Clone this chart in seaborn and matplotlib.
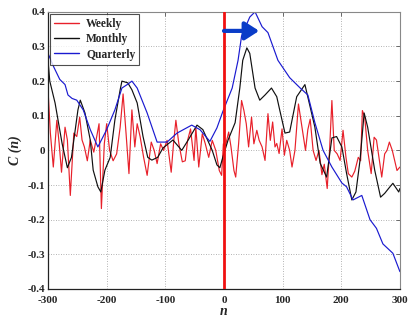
import numpy as np
import pandas as pd
import matplotlib
matplotlib.use("Agg")
import matplotlib.pyplot as plt
import seaborn as sns

# ---------------- data ----------------
weekly_n = [-300, -296, -291, -285, -281, -277, -271, -267, -262, -256, -251, -246, -242, -238,
            -233, -228, -222, -217, -213, -209, -204, -200, -195, -189, -183, -177, -172, -167,
            -162, -157, -152, -148, -143, -137, -131, -124, -119, -114, -108, -103, -97, -90,
            -86, -82, -77, -71, -66, -62, -57, -51, -48, -43, -37, -32, -26, -20, -14, -8,
            -4, -1, 2, 8, 12, 17, 20, 25, 30, 34, 38, 42, 47, 51, 56, 60, 65, 70, 75, 79,
            83, 87, 90, 94, 99, 103, 107, 112, 116, 121, 127, 133, 139, 143, 147, 152, 157,
            162, 167, 171, 176, 180, 184, 188, 193, 198, 203, 208, 212, 218, 223, 229, 233,
            236, 240, 245, 251, 256, 260, 265, 269, 274, 278, 282, 287, 291, 295, 300]
weekly_c = [0.175, 0.05, -0.048, 0.087, 0.02, -0.063, 0.067, 0.03, -0.13, 0.05, 0.04, 0.096, 0.03, 0.01,
            -0.03, 0.03, -0.005, 0.04, 0.077, -0.168, 0.02, 0.077, 0.0, -0.03, -0.01, 0.067, 0.163, 0.05,
            -0.067, 0.117, 0.01, 0.077, 0.04, -0.02, -0.072, 0.024, 0.0, -0.038, 0.019, 0.0, 0.029, -0.063,
            0.02, 0.087, 0.02, -0.033, -0.03, 0.029, 0.062, -0.029, 0.067, -0.048, 0.048, 0.02, -0.02, 0.029, 0.0, -0.058,
            -0.072, 0.019, 0.01, 0.053, 0.01, -0.058, -0.077, 0.02, 0.144, 0.115, 0.077, 0.01, 0.096, 0.019, 0.058, 0.029, 0.01, -0.029, 0.106, 0.029,
            0.082, 0.01, 0.02, -0.009, 0.062, -0.014, 0.029, 0.0, -0.048, 0.0, 0.134, 0.067, 0.0, 0.06, 0.09, 0.0, -0.029,
            0.0, -0.07, -0.04, -0.11, 0.0, 0.144, 0.0, -0.01, -0.029, 0.058, -0.02, -0.067, -0.077, -0.06, -0.02, -0.03,
            0.115, 0.096, 0.0, -0.067, 0.038, 0.03, -0.029, -0.077, -0.01, 0.0, 0.024, 0.0, -0.029, -0.058, -0.048]

monthly_n = [-300, -297, -288, -276, -267, -260, -249, -245, -237, -228, -223, -215, -210, -203,
             -194, -186, -177, -174, -164, -157, -148, -138, -130, -123, -113, -104, -87, -72,
             -61, -46, -36, -20, -12, -7, -2, 7, 19, 27, 32, 39, 44, 53, 61, 70, 81, 90, 95,
             104, 112, 124, 138, 147, 155, 164, 175, 184, 192, 201, 209, 218, 225, 232, 239,
             245, 257, 267, 274, 283, 288, 298, 300]
monthly_c = [0.26, 0.2, 0.137, 0.02, -0.05, -0.02, 0.117, 0.145, 0.108, 0.03, -0.057, -0.105, -0.12, -0.057,
             -0.02, 0.088, 0.175, 0.2, 0.195, 0.175, 0.137, 0.04, -0.02, -0.028, -0.02, 0.007, 0.03, 0.0,
             0.03, 0.073, 0.06, 0.0, -0.042, -0.05, -0.02, 0.03, 0.08, 0.18, 0.26, 0.296, 0.28, 0.18, 0.145, 0.16, 0.18, 0.155, 0.117,
             0.05, 0.053, 0.155, 0.19, 0.125, 0.067, -0.037, -0.077, 0.036, 0.04, 0.01, -0.066, -0.143, -0.12, -0.028, 0.108,
             0.067, -0.057, -0.135, -0.124, -0.105, -0.095, -0.12, -0.11]

quarterly_n = [-300, -290, -280, -271, -266, -259, -251, -240, -228, -215, -200, -186, -174, -165,
               -157, -148, -131, -114, -97, -80, -55, -41, -24, -12, -2, 14, 24, 30, 44, 53, 65,
               75, 92, 112, 130, 143, 155, 169, 184, 201, 209, 220, 235, 249, 260, 271, 288, 300]
quarterly_c = [0.28, 0.24, 0.205, 0.19, 0.16, 0.15, 0.145, 0.117, 0.06, 0.01, 0.06, 0.117, 0.18, 0.19,
               0.2, 0.18, 0.108, 0.024, 0.024, 0.05, 0.073, 0.06, 0.026, 0.065, 0.112, 0.18, 0.26, 0.33, 0.385, 0.4, 0.357,
               0.34, 0.26, 0.21, 0.18, 0.16, 0.08, 0.0, -0.048, -0.094, -0.105, -0.143, -0.13, -0.2, -0.225, -0.27, -0.297, -0.35]

series_names = ["Weekly", "Monthly", "Quarterly"]
series_colors = ["#e8202a", "#101010", "#1a1ad0"]

x_ticks = [-300, -200, -100, 0, 100, 200, 300]
y_ticks = [-0.4, -0.3, -0.2, -0.1, 0, 0.1, 0.2, 0.3, 0.4]
y_tick_labels = ["-0.4", "-0.3", "-0.2", "-0.1", "0", "0.1", "0.2", "0.3", "0.4"]

marker_n = 0
arrow_from = (0, 0.345)
arrow_to = (60, 0.345)

# ---------------- figure ----------------
sns.set_theme(style="white")
plt.rcParams["font.family"] = ["Liberation Serif", "DejaVu Serif"]
plt.rcParams["font.weight"] = "bold"

fig = plt.figure(figsize=(4.14, 3.2), dpi=100)
ax = fig.add_axes([0.116, 0.097, 0.85, 0.866])

frames = [
    pd.DataFrame({"n": weekly_n, "C": weekly_c, "series": "Weekly"}),
    pd.DataFrame({"n": monthly_n, "C": monthly_c, "series": "Monthly"}),
    pd.DataFrame({"n": quarterly_n, "C": quarterly_c, "series": "Quarterly"}),
]
df = pd.concat(frames, ignore_index=True)

sns.lineplot(data=df, x="n", y="C", hue="series", hue_order=series_names,
             palette=dict(zip(series_names, series_colors)), estimator=None,
             sort=False, linewidth=0.85, ax=ax)

ax.axvline(marker_n, color="#f01010", linewidth=2.0, zorder=5)
ax.annotate("", xy=arrow_to, xytext=arrow_from,
            arrowprops=dict(arrowstyle="-|>,head_length=0.7,head_width=0.45",
                            color="#0a3cc8", linewidth=3.0, shrinkA=0, shrinkB=0),
            zorder=6)

ax.set_xlim(-300, 300)
ax.set_ylim(-0.4, 0.4)
ax.set_xticks(x_ticks)
ax.set_xticklabels([str(t) for t in x_ticks])
ax.set_yticks(y_ticks)
ax.set_yticklabels(y_tick_labels)
ax.tick_params(axis="both", which="both", direction="in", length=3, width=0.6,
               labelsize=8, top=True, right=True, color="#555555")
ax.tick_params(axis="x", pad=5)
ax.tick_params(axis="y", pad=2)
for lab in ax.get_xticklabels() + ax.get_yticklabels():
    lab.set_fontweight("bold")

ax.grid(True, linestyle=(0, (1, 2)), color="#9a9a9a", linewidth=0.6)
for side in ["left", "bottom"]:
    ax.spines[side].set_color("#222222")
    ax.spines[side].set_linewidth(0.9)
for side in ["top", "right"]:
    ax.spines[side].set_color("#888888")
    ax.spines[side].set_linewidth(0.8)

ax.set_xlabel("n", fontsize=10, fontweight="bold", fontstyle="italic", labelpad=0)
ax.set_ylabel("C (n)", fontsize=10, fontweight="bold", fontstyle="italic", labelpad=4)

leg = ax.legend(loc="upper left", frameon=True, fancybox=False,
                handlelength=2.2, borderpad=0.35, labelspacing=0.3,
                handletextpad=0.6, borderaxespad=0.15, prop={"weight": "bold", "size": 8.3})
leg.get_frame().set_edgecolor("#222222")
leg.get_frame().set_linewidth(0.8)
for line in leg.get_lines():
    line.set_linewidth(1.0)

fig.savefig("out.png", dpi=100)
